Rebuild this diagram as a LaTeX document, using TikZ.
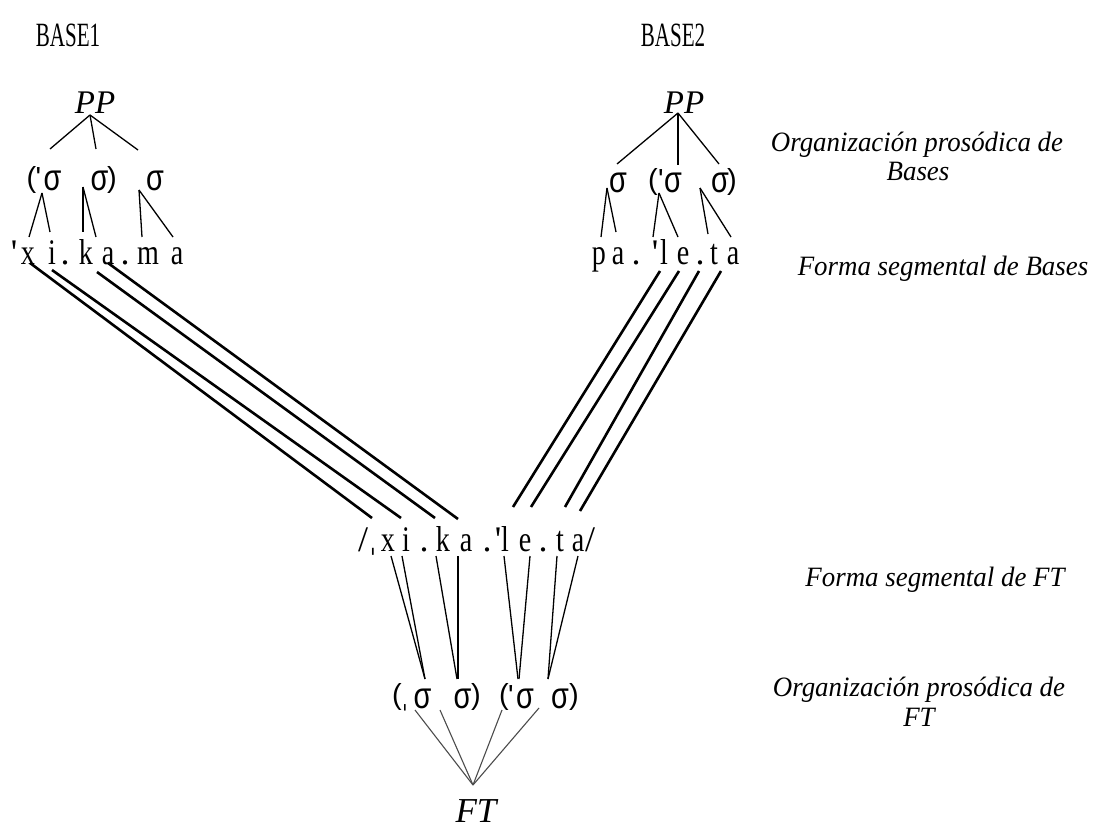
\documentclass[tikz,border=0pt]{standalone}
\usepackage{fontspec}
\setmainfont{Liberation Serif}[Ligatures=TeXOff]
\newfontfamily\sigfont{Liberation Sans}[Ligatures=TeXOff]
\newfontfamily\ipafont{DejaVu Sans}
\usetikzlibrary{calc}

% narrow a piece of text horizontally
\newcommand{\narrow}[2]{\scalebox{#1}[1]{#2}}

\begin{document}
\begin{tikzpicture}[x=1pt,y=-1pt,
  seg/.style={inner sep=0pt, anchor=base, font=\fontsize{36}{40}\selectfont},
  sig/.style={inner sep=0pt, anchor=center, font=\sigfont\fontsize{37}{40}\selectfont},
  par/.style={inner sep=0pt, anchor=center, font=\sigfont\fontsize{29}{32}\selectfont},
  stressmark/.style={inner sep=0pt, anchor=base, font=\sigfont\fontsize{29}{32}\selectfont},
  tier/.style={inner sep=0pt, anchor=base, font=\itshape\fontsize{28}{32}\selectfont},
  head/.style={inner sep=0pt, anchor=base, font=\itshape\fontsize{33}{36}\selectfont},
  basename/.style={inner sep=0pt, anchor=base, font=\fontsize{34}{38}\selectfont},
  branch/.style={line width=1.3pt},
  assoc/.style={line width=2.6pt},
  foot/.style={line width=1.1pt, draw=black!70},
]
\useasboundingbox (0,0) rectangle (1098,829);

% ---------- base names ----------
\node[basename] (b1) at (68,47) {\narrow{0.62}{BASE1}};
\node[basename] (b2) at (673,47) {\narrow{0.62}{BASE2}};

% ---------- prosodic phrases ----------
\node[head] (ppL) at (95,114) {PP};
\node[head] (ppR) at (684,114) {PP};

% ---------- syllables of BASE1 ----------
\node[par] (lpL) at (31.5,180) {(};
\node[stressmark] (stL) at (38.5,188) {'};
\node[sig] (sL1) at (52.5,181) {\narrow{0.78}{σ}};
\node[sig] (sL2) at (99.5,181) {\narrow{0.78}{σ}};
\node[par] (rpL) at (112,180) {)};
\node[sig] (sL3) at (155,181) {\narrow{0.78}{σ}};

% ---------- syllables of BASE2 ----------
\node[sig] (sR1) at (618,183) {\narrow{0.78}{σ}};
\node[par] (lpR) at (653,182) {(};
\node[stressmark] (stR) at (661,190) {'};
\node[sig] (sR2) at (673,183) {\narrow{0.78}{σ}};
\node[sig] (sR3) at (720,183) {\narrow{0.78}{σ}};
\node[par] (rpR) at (732,182) {)};

% ---------- segments of BASE1 ----------
\node[seg] (x0) at (14,265) {'};
\node[seg] (x1) at (28,265) {\narrow{0.78}{x}};
\node[seg] (x2) at (52,265) {\narrow{0.78}{i}};
\node[seg] (x3) at (65,265) {.};
\node[seg] (x4) at (86,265) {\narrow{0.78}{k}};
\node[seg] (x5) at (108,265) {\narrow{0.78}{a}};
\node[seg] (x6) at (125,265) {.};
\node[seg] (x7) at (148,265) {\narrow{0.78}{m}};
\node[seg] (x8) at (177,265) {\narrow{0.78}{a}};

% ---------- segments of BASE2 ----------
\node[seg] (y1) at (599,265) {\narrow{0.78}{p}};
\node[seg] (y2) at (618,265) {\narrow{0.78}{a}};
\node[seg] (y3) at (636,265) {.};
\node[seg] (y4) at (655,265) {'};
\node[seg] (y5) at (664,265) {\narrow{0.78}{l}};
\node[seg] (y6) at (683,265) {\narrow{0.78}{e}};
\node[seg] (y7) at (700,265) {.};
\node[seg] (y8) at (714,265) {\narrow{0.78}{t}};
\node[seg] (y9) at (733,265) {\narrow{0.78}{a}};

% ---------- segments of the truncated form ----------
\node[seg] (z0) at (363,551) {/};
\node[seg] (z1) at (373,551) {\ipafont\fontsize{26}{28}\selectfont ˌ};
\node[seg] (z2) at (388,551) {\narrow{0.78}{x}};
\node[seg] (z3) at (406,551) {\narrow{0.78}{i}};
\node[seg] (z4) at (424,551) {.};
\node[seg] (z5) at (443,551) {\narrow{0.78}{k}};
\node[seg] (z6) at (466,551) {\narrow{0.78}{a}};
\node[seg] (z7) at (487,551) {.};
\node[seg] (z8) at (498,551) {'};
\node[seg] (z9) at (505,551) {\narrow{0.78}{l}};
\node[seg] (z10) at (525,551) {\narrow{0.78}{e}};
\node[seg] (z11) at (543,551) {.};
\node[seg] (z12) at (560,551) {\narrow{0.78}{t}};
\node[seg] (z13) at (578,551) {\narrow{0.78}{a}};
\node[seg] (z14) at (590,551) {/};

% ---------- syllables of the truncated form ----------
\node[par] (lpF1) at (397,697) {(};
\node[seg] (stF1) at (405,707) {\ipafont\fontsize{24}{26}\selectfont ˌ};
\node[sig] (sF1) at (422.5,698.5) {\narrow{0.78}{σ}};
\node[sig] (sF2) at (462.5,698.5) {\narrow{0.78}{σ}};
\node[par] (rpF1) at (476,697) {)};
\node[par] (lpF2) at (504,697) {(};
\node[stressmark] (stF2) at (511,705) {'};
\node[sig] (sF3) at (525,698.5) {\narrow{0.78}{σ}};
\node[sig] (sF4) at (560,698.5) {\narrow{0.78}{σ}};
\node[par] (rpF2) at (574,697) {)};

\node[head, font=\itshape\fontsize{35}{38}\selectfont] (ft) at (476,822) {FT};

% ---------- tier labels ----------
\node[tier] (t1a) at (917,152) {\narrow{0.96}{Organización prosódica de}};
\node[tier] (t1b) at (918,181) {\narrow{0.96}{Bases}};
\node[tier] (t2) at (943,276) {\narrow{0.96}{Forma segmental de Bases}};
\node[tier] (t3) at (935,586) {\narrow{0.96}{Forma segmental de FT}};
\node[tier] (t4a) at (919,696) {\narrow{0.96}{Organización prosódica de}};
\node[tier] (t4b) at (919,726) {\narrow{0.96}{FT}};

% ---------- attachment points ----------
\coordinate (ppLa) at (90,115);
\coordinate (ppRa) at (678,113);
\coordinate (sL1a) at (42,193);
\coordinate (sL2a) at (83,187);
\coordinate (sL3a) at (139,190);
\coordinate (sR1a) at (607,188);
\coordinate (sR2a) at (659,193);
\coordinate (sR3a) at (700,188);
\coordinate (ftA) at (473,785);

% ---------- trees of the bases ----------
\draw[branch] (ppLa) -- (50,149);
\draw[branch] (ppLa) -- (96,149);
\draw[branch] (ppLa) -- (138,150);
\draw[branch] (sL1a) -- (29,237);
\draw[branch] (sL1a) -- (50,232);
\draw[branch] (sL2a) -- (83,232);
\draw[branch] (sL2a) -- (96,237);
\draw[branch] (sL3a) -- (142,237);
\draw[branch] (sL3a) -- (173,237);

\draw[branch] (ppRa) -- (617,164);
\draw[branch] (ppRa) -- (678,165);
\draw[branch] (ppRa) -- (719,164);
\draw[branch] (sR1a) -- (601,237);
\draw[branch] (sR1a) -- (616,232);
\draw[branch] (sR2a) -- (653,237);
\draw[branch] (sR2a) -- (678,237);
\draw[branch] (sR3a) -- (708,234);
\draw[branch] (sR3a) -- (731,237);

% ---------- correspondence lines ----------
\draw[assoc] (30,263) -- (372,518);
\draw[assoc] (52,270) -- (401,518);
\draw[assoc] (97,272) -- (435,518);
\draw[assoc] (108,263) -- (458,519);

\draw[assoc] (660,271) -- (513,507);
\draw[assoc] (679,271) -- (531,507);
\draw[assoc] (699,271) -- (565,507);
\draw[assoc] (721,271) -- (580,511);

% ---------- syllabification of the truncated form ----------
\draw[branch] (391,556) -- (425,679);
\draw[branch] (402,556) -- (425,679);
\draw[branch] (436,556) -- (457,679);
\draw[branch] (458,556) -- (458,679);
\draw[branch] (504,556) -- (518,679);
\draw[branch] (530,556) -- (519,679);
\draw[branch] (557,556) -- (548,679);
\draw[branch] (578,556) -- (548,679);

% ---------- foot ----------
\draw[foot] (415,710) -- (ftA);
\draw[foot] (440,710) -- (ftA);
\draw[foot] (502,710) -- (ftA);
\draw[foot] (539,708) -- (ftA);
\end{tikzpicture}
\end{document}
